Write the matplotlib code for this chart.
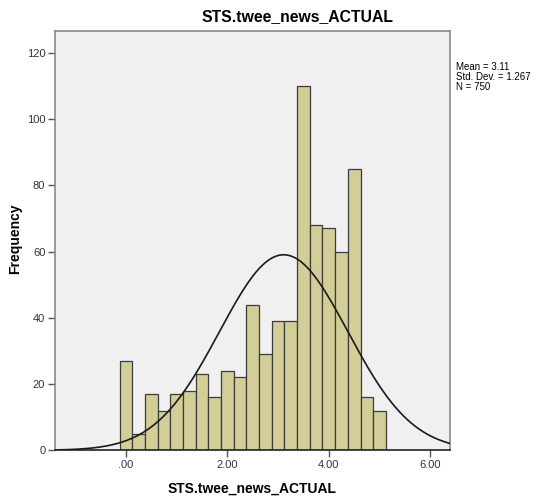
import numpy as np
import matplotlib
matplotlib.use("Agg")
import matplotlib.pyplot as plt

# Data
bin_left_edge = -0.125
bin_width = 0.25
counts = [27, 5, 17, 12, 17, 18, 23, 16, 24, 22, 44, 29, 39, 39, 110, 68, 67, 60, 85, 16, 12]
mean_val = 3.11
std_val = 1.267
n_val = 750
x_ticks = [0, 2, 4, 6]
x_tick_labels = [".00", "2.00", "4.00", "6.00"]
y_ticks = [0, 20, 40, 60, 80, 100, 120]
title = "STS.twee_news_ACTUAL"

plt.rcParams['font.family'] = ['Liberation Sans', 'DejaVu Sans']

fig = plt.figure(figsize=(5.39, 4.99), dpi=100)
fig.patch.set_facecolor('white')
ax = fig.add_axes([55/539, 1-450.3/499, (450-55)/539, (450.3-31)/499])
ax.set_facecolor('#F0F0F0')

edges = bin_left_edge + bin_width*np.arange(len(counts)+1)
ax.bar(edges[:-1], counts, width=bin_width, align='edge', color='#D3CE97',
       edgecolor='#3C3C3C', linewidth=0.9, zorder=2)

xs = np.linspace(-1.4, 6.39, 500)
ys = n_val*bin_width/(std_val*np.sqrt(2*np.pi))*np.exp(-0.5*((xs-mean_val)/std_val)**2)
ax.plot(xs, ys, color='#1A1A1A', linewidth=1.2, zorder=3)

ax.set_xlim(-1.40, 6.39)
ax.set_ylim(0, 126.6)
ax.set_xticks(x_ticks)
ax.set_xticklabels(x_tick_labels)
ax.set_yticks(y_ticks)
ax.tick_params(axis='both', direction='out', length=5, width=1, color='#555555',
               labelsize=8, labelcolor='#333333', pad=2)
for s in ax.spines.values():
    s.set_color('#8A8A8A')
    s.set_linewidth(1.2)
ax.spines['bottom'].set_color('#222222')

fig.text(252/539, 1-489/499, title, fontsize=10, fontweight='bold', ha='center', va='center')
fig.text(15/539, 1-239/499, "Frequency", fontsize=10, fontweight='bold', ha='center', va='center',
         rotation=90)
fig.text(297/539, 1-17/499, title, fontsize=11.3, fontweight='bold', ha='center', va='center')

fig.text(456/539, 1-62/499, "Mean = 3.11\nStd. Dev. = 1.267\nN = 750", fontsize=7,
         ha='left', va='top', linespacing=1.0)

fig.savefig("out.png", dpi=100)
